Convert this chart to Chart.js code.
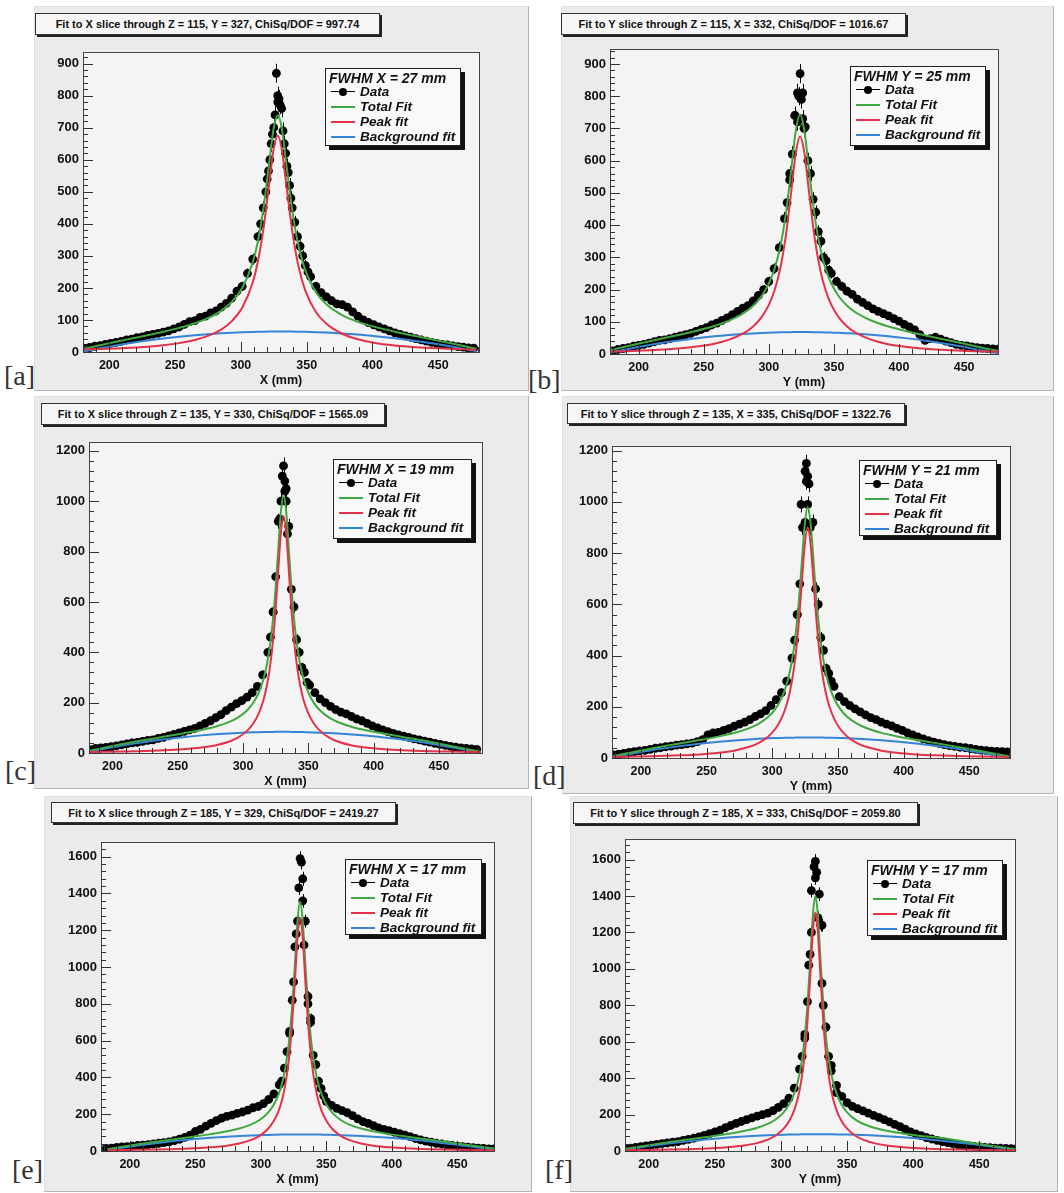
<!DOCTYPE html>
<html>
<head>
<meta charset="utf-8">
<script src="https://cdn.jsdelivr.net/npm/chart.js@4.4.1/dist/chart.umd.min.js"></script>
<style>
  body { margin: 0; width: 1064px; height: 1193px; position: relative; overflow: hidden; background: #fff; font-family: "Liberation Sans", Arial, sans-serif; }
  .pad { position: absolute; background: #ebebeb; border-left: 1px solid #e0e0e0; border-top: 1px solid #e0e0e0; border-right: 1px solid #b4b4b4; border-bottom: 1px solid #b4b4b4; }
  .ttl { position: absolute; box-sizing: border-box; background: #f6f6f6; border: 1px solid #333; box-shadow: 2px 2px 0 #222; font: bold 11px "Liberation Sans", Arial, sans-serif; color: #111; display: flex; align-items: center; justify-content: center; white-space: nowrap; }
  .leg { position: absolute; box-sizing: border-box; background: #f9f9f9; border: 1px solid #222; box-shadow: 4px 4px 0 #111; color: #111; font: italic bold 13.5px "Liberation Sans", Arial, sans-serif; }
  .leg div { position: absolute; white-space: nowrap; }
  .tag { position: absolute; font: 28px "Liberation Serif", "DejaVu Serif", serif; color: #333; line-height: 1; }
  canvas { position: absolute; }
</style>
</head>
<body>
<script>
// ---- data ----
const BIN = 4; // data points every 4 mm

const titles = [
  'Fit to X slice through Z = 115, Y = 327, ChiSq/DOF = 997.74',
  'Fit to Y slice through Z = 115, X = 332, ChiSq/DOF = 1016.67',
  'Fit to X slice through Z = 135, Y = 330, ChiSq/DOF = 1565.09',
  'Fit to Y slice through Z = 135, X = 335, ChiSq/DOF = 1322.76',
  'Fit to X slice through Z = 185, Y = 329, ChiSq/DOF = 2419.27',
  'Fit to Y slice through Z = 185, X = 333, ChiSq/DOF = 2059.80'
];
const fwhmLabels = ['FWHM X = 27 mm', 'FWHM Y = 25 mm', 'FWHM X = 19 mm', 'FWHM Y = 21 mm', 'FWHM X = 17 mm', 'FWHM Y = 17 mm'];
const legendLabels = ['Data', 'Total Fit', 'Peak fit', 'Background fit'];

const xTickValues = [200, 250, 300, 350, 400, 450];
const yTicks900 = [0, 100, 200, 300, 400, 500, 600, 700, 800, 900];
const yTicks1200 = [0, 200, 400, 600, 800, 1000, 1200];
const yTicks1600 = [0, 200, 400, 600, 800, 1000, 1200, 1400, 1600];

// panel a
const dataA = [12,14,18,20,24,27,30,33,38,40,45,47,52,55,58,62,66,72,78,86,95,98,108,112,122,128,140,152,168,190,205,245,290,360,450,565,700,790,650,520,405,330,270,235,205,185,172,160,150,148,140,125,112,100,92,85,78,72,66,60,55,50,46,42,38,34,30,27,24,22,19,17,15,13,12];
const clusterXA = [326,327,328,328,330,331,324,334,315,319,320,322,323,332,335,336,338,339,343,347,351];
const clusterYA = [740,870,800,780,770,760,680,620,400,500,540,600,650,690,580,560,480,450,360,300,250];
const fitXA = [179,193,205,217,229,241,253,265,277,285,293,301,309,313,317,321,325,328,331,335,339,343,349,357,365,377,389,401,417,433,449,465,479];
const totalA = [8.6,21.3,31.8,42.1,52.4,63.3,75.3,89.8,109.6,128.4,155.9,199.7,279.7,346.6,443,572.2,699.9,739,700,571.9,443.3,346.5,254.8,187.1,148.8,114.9,94.1,79.1,63.4,49.6,36.3,22.6,10.1];
const peakA = [7.8,9.3,11.1,13.5,16.7,21.2,27.7,37.5,53.4,70,95.7,138,216.9,283.4,379.5,508.4,635.9,675,636,508,379.5,283,191.8,125.1,88.2,57,39.7,29.1,20.4,15,11.5,9.1,7.6];
const bkgA = [0.8,12,20.7,28.6,35.7,42.1,47.6,52.3,56.2,58.4,60.2,61.7,62.8,63.2,63.5,63.8,64,64,64,63.9,63.8,63.5,63,62,60.6,57.9,54.4,50,43,34.6,24.8,13.5,2.5];

// panel b
const dataB = [10,14,17,20,24,27,30,34,38,42,44,48,52,56,60,64,70,76,82,90,96,104,112,122,132,142,150,165,182,200,225,265,330,420,540,740,870,705,560,440,350,290,250,225,210,195,185,170,160,150,140,132,125,118,110,102,92,84,75,60,42,48,52,46,40,35,30,27,25,22,20,18,17,16,15];
const clusterXB = [322,323,325,326,320,327,314,316,318,322,326,330,334,338,342,346];
const clusterYB = [810,800,790,810,740,700,470,560,620,720,730,600,480,380,300,260];
const fitXB = [178,181,203,225,241.5,258,269,280,287.7,294.3,299.8,304.2,308.6,313,316.85,320.7,324,327.3,331.15,335,339.4,343.8,348.2,353.7,360.3,368,379,390,406.5,423,445,467,478];
const totalB = [11.8,14.7,34.8,54.1,69,86.9,102.6,125,148.7,178.9,216.8,262,329.6,433.2,559.9,692.3,743,692.3,560.1,433.3,329.8,262.3,217.1,179.3,149.1,125.6,103.2,87.7,70,55.2,36.2,16.4,8.6];
const peakB = [7.4,7.7,10.6,15.5,21.5,32.1,43.8,63,84.8,113.7,150.7,195.3,262.4,365.6,492.1,624.3,675,624.3,492.1,365.6,262.4,195.3,150.7,113.7,84.8,63,43.8,32.1,21.5,15.5,10.6,7.7,6.6];
const bkgB = [4.4,7,24.2,38.6,47.5,54.8,58.8,62,63.9,65.2,66.1,66.7,67.2,67.6,67.8,68,68,68,68,67.7,67.4,67,66.4,65.6,64.3,62.6,59.4,55.6,48.5,39.7,25.6,8.7,2];

// panel c
const dataC = [12,18,20,22,25,28,32,36,40,42,46,50,52,58,62,68,74,80,86,92,98,108,118,128,140,152,168,182,196,208,222,240,265,310,400,560,920,1140,900,580,400,320,270,240,215,200,185,172,162,155,145,135,128,118,108,100,92,85,78,72,67,62,56,52,47,43,38,34,30,26,23,20,18,16,14];
const clusterXC = [330,332,333,332,329,333,321,323,325,328,334,337,341,345,349];
const clusterYC = [1100,1080,1050,1040,1000,1000,460,560,700,930,870,650,450,340,280];
const fitXC = [182,191,219,240,254,268,278.5,289,296,303,307.9,312.1,315.6,318.4,321.2,324,326.45,328.9,331,333.1,335.55,338,340.8,343.6,346.4,349.9,354.1,359,366,373,383.5,394,408,422,443,471,482];
const totalC = [8.4,18.4,46.3,65.2,77.8,91.5,104.4,122.6,140.8,169.1,200.4,241.2,293.1,355.5,449.1,593,769.3,953.4,1024,953.4,769.3,592.9,449,355.3,292.9,241,200.1,168.7,140.3,122,103.6,90.6,76.7,63.9,44.7,16.3,5.5];
const peakC = [4,4.6,7.1,10.7,14.8,21.5,30,44.7,61,87.8,118.2,158.4,209.9,272,365.4,509.1,685.3,869.4,940,869.4,685.3,509.1,365.4,272,209.9,158.4,118.2,87.8,61,44.7,30,21.5,14.8,10.7,7.1,4.6,4];
const bkgC = [4.4,13.8,39.2,54.5,63,70,74.4,77.9,79.8,81.3,82.2,82.8,83.2,83.5,83.7,83.9,84,84,84,84,84,83.8,83.6,83.3,83,82.6,81.9,80.9,79.3,77.3,73.6,69.1,61.9,53.2,37.6,11.7,1.5];

// panel d
const dataD = [12,15,18,22,25,28,30,34,38,40,44,46,50,52,55,58,64,72,90,98,100,108,115,124,132,140,150,162,172,185,205,228,255,300,390,560,900,990,920,600,420,330,280,240,220,205,192,180,168,158,150,140,132,125,116,108,98,90,82,75,68,62,57,52,48,45,42,40,37,34,31,29,27,26,25,24];
const clusterXD = [326,325,327,326,328,322,317,319,321,325,329,333,337,341,345];
const clusterYD = [1150,1120,1100,1080,1070,990,460,560,680,920,900,660,470,350,300];
const fitXD = [178,207,229.5,244.5,259.5,270.75,282,289.5,297,302.25,306.75,310.5,313.5,316.5,319.5,322.1,324.75,327,329.25,331.9,334.5,337.5,340.5,343.5,347.25,351.75,357,364.5,372,383.25,394.5,409.5,424.5,447,481];
const totalD = [6.6,36.1,56.7,70,84.4,97.3,115.5,133.3,160.8,190.8,230.1,279.9,339.8,429.3,567.2,736,912.4,980,912.4,736.1,567.3,429.5,340,280.2,230.4,191.1,161.2,133.8,116.1,98.1,85.3,71.1,58.1,37.8,5.7];
const peakD = [4.5,6.8,10.3,14.1,20.6,28.7,42.8,58.4,84.1,113.1,151.7,201,260.5,349.8,487.4,656.1,832.4,900,832.4,656.1,487.4,349.8,260.5,201,151.7,113.1,84.1,58.4,42.8,28.7,20.6,14.1,10.3,6.8,4.2];
const bkgD = [2.1,29.3,46.4,55.9,63.8,68.6,72.7,74.9,76.7,77.7,78.4,78.9,79.3,79.5,79.75,79.9,80,80,80,80,79.9,79.7,79.5,79.2,78.7,78,77.1,75.4,73.3,69.4,64.7,57,47.8,31,1.5];

// panel e
const dataE = [14,16,20,22,24,27,30,32,35,38,42,46,50,56,64,74,86,106,118,135,150,165,178,188,195,205,212,222,235,242,258,280,310,360,450,640,1110,1590,1250,720,470,340,270,248,232,220,208,192,175,160,150,138,125,118,110,102,94,86,78,68,60,54,48,42,38,33,30,27,24,21,18,16,14,12,11,10,9];
const clusterXE = [331,332,329,332,328,333,325,336,316,320,322,324,327,336,338,340,344,348];
const clusterYE = [1570,1480,1430,1360,1250,1120,920,840,380,540,650,820,1180,800,700,520,380,300];
const fitXE = [183,206,230.8,249.4,261.8,274.2,283.5,292.8,299,305.2,309.5,313.3,316.4,318.8,321.3,323.8,326,328.1,330,331.9,334,336.2,338.7,341.2,343.6,346.7,350.5,354.8,361,367.2,376.5,385.8,398.2,410.6,429.2,454,486];
const totalE = [10.2,36.3,61.3,79.1,91.8,106.9,122,144.7,168.4,205.8,247.4,302.1,371.8,455.6,581.4,775,1012.1,1260,1355,1260,1012.1,775,581.4,455.6,371.8,302.1,247.4,205.8,168.4,144.7,122,106.9,91.8,79.1,61.3,36.3,5.4];
const peakE = [4.4,6.2,9.6,14.4,19.9,29,40.4,60.1,82.1,118.2,159,213.2,282.5,366.1,491.7,685.1,922.2,1170,1265,1170,922.2,685.1,491.7,366.1,282.5,213.2,159,118.2,82.1,60.1,40.4,29,19.9,14.4,9.6,6.2,3.9];
const bkgE = [5.8,30.1,51.7,64.7,71.9,77.9,81.6,84.6,86.3,87.6,88.4,88.9,89.3,89.5,89.7,89.85,89.9,90,90,90,89.9,89.85,89.7,89.5,89.3,88.9,88.4,87.6,86.3,84.6,81.6,77.9,71.9,64.7,51.7,30.1,1.5];

// panel f
const dataF = [12,16,20,24,28,32,36,40,44,48,52,58,64,70,78,86,95,105,115,128,140,152,162,172,182,192,200,208,222,240,260,290,345,450,640,1080,1590,1240,680,470,360,300,265,245,232,220,208,196,184,172,160,146,134,120,105,94,84,74,66,58,52,46,40,35,31,28,25,22,20,18,16,15,14,13,13,12];
const clusterXF = [325,327,326,323,329,331,321,316,318,320,323,328,331,332,336,338,342];
const clusterYF = [1560,1530,1500,1430,1410,1240,1020,520,620,820,1200,1280,920,800,520,440,320];
const fitXF = [180,206,230,248,260,272,281,290,296,302,306.2,309.8,312.8,315.2,317.6,320,322.1,324.2,326,327.8,329.9,332,334.4,336.8,339.2,342.2,345.8,350,356,362,371,380,392,404,422,446,482];
const totalF = [9.1,39.1,63.8,81.4,94.2,109.5,125,148.5,172.9,211.7,254.8,311.4,383.6,470.4,600.8,801.2,1046.9,1303.5,1402,1303.6,1047,801.4,601,470.8,384,311.9,255.4,212.5,173.9,149.6,126.4,111.2,96.3,83.9,71.7,43,5.3];
const peakF = [4.3,6.4,10,14.9,20.6,30,41.8,62.2,85,122.4,164.7,220.7,292.5,379.1,509.2,709.5,955,1211.6,1310,1211.6,955,709.5,509.2,379.1,292.5,220.7,164.7,122.4,85,62.2,41.8,30,20.6,14.9,10,6.4,3.8];
const bkgF = [4.8,32.7,53.8,66.5,73.6,79.5,83.2,86.3,87.9,89.3,90.1,90.7,91.1,91.3,91.6,91.7,91.9,91.9,92,92,92,91.9,91.8,91.7,91.5,91.2,90.7,90.1,88.9,87.4,84.6,81.2,75.7,69,56.8,36.6,1.5];

// ---- layout ----
const GREEN = '#40a840', RED = '#e3324a', BLUE = '#3484d8';

const PANELS = [
  { axis: 'X', frame: [83, 50, 479, 352], xr: [180, 481], ymax: 937, yTicks: yTicks900, yStep: 100, yMinor: 20,
    pad: [34, 6, 527, 389], tbox: [35, 13, 345, 22], lbox: [325, 68, 136, 78], tag: ['[a]', 4, 362],
    start: 181, data: dataA, clX: clusterXA, clY: clusterYA, fitX: fitXA, total: totalA, peak: peakA, bkg: bkgA },
  { axis: 'Y', frame: [610, 47, 998, 354], xr: [178, 476], ymax: 947, yTicks: yTicks900, yStep: 100, yMinor: 20,
    pad: [561, 6, 1052, 389], tbox: [561, 13, 345, 22], lbox: [850, 66, 136, 80], tag: ['[b]', 528, 366],
    start: 180, data: dataB, clX: clusterXB, clY: clusterYB, fitX: fitXB, total: totalB, peak: peakB, bkg: bkgB },
  { axis: 'X', frame: [89, 440, 482, 753], xr: [182, 483], ymax: 1236, yTicks: yTicks1200, yStep: 200, yMinor: 40,
    pad: [34, 396, 527, 787], tbox: [41, 403, 344, 22], lbox: [333, 459, 139, 80], tag: ['[c]', 5, 757],
    start: 183, data: dataC, clX: clusterXC, clY: clusterYC, fitX: fitXC, total: totalC, peak: peakC, bkg: bkgC },
  { axis: 'Y', frame: [612, 444, 1010, 758], xr: [178, 481], ymax: 1219, yTicks: yTicks1200, yStep: 200, yMinor: 40,
    pad: [562, 396, 1052, 792], tbox: [567, 403, 338, 21], lbox: [859, 460, 138, 76], tag: ['[d]', 533, 762],
    start: 179, data: dataD, clX: clusterXD, clY: clusterYD, fitX: fitXD, total: totalD, peak: peakD, bkg: bkgD },
  { axis: 'X', frame: [101, 840, 494, 1151], xr: [178, 478], ymax: 1681, yTicks: yTicks1600, yStep: 200, yMinor: 40,
    pad: [44, 796, 530, 1190], tbox: [51, 802, 345, 21], lbox: [345, 859, 137, 76], tag: ['[e]', 12, 1156],
    start: 182, data: dataE, clX: clusterXE, clY: clusterYE, fitX: fitXE, total: totalE, peak: peakE, bkg: bkgE },
  { axis: 'Y', frame: [625, 837, 1015, 1151], xr: [182, 477], ymax: 1714, yTicks: yTicks1600, yStep: 200, yMinor: 40,
    pad: [570, 796, 1056, 1190], tbox: [573, 802, 345, 22], lbox: [867, 860, 136, 76], tag: ['[f]', 545, 1156],
    start: 182, data: dataF, clX: clusterXF, clY: clusterYF, fitX: fitXF, total: totalF, peak: peakF, bkg: bkgF }
];

Chart.defaults.font.family = '"Liberation Sans", Arial, sans-serif';

// ROOT-like frame, inward ticks and error bars
const rootFrame = {
  id: 'rootFrame',
  beforeDraw(chart) {
    const { ctx, chartArea: a } = chart;
    ctx.save();
    ctx.fillStyle = '#f4f4f4';
    ctx.fillRect(a.left, a.top, a.right - a.left, a.bottom - a.top);
    ctx.restore();
  },
  beforeDatasetsDraw(chart) {
    const { ctx, chartArea: a, scales: { x, y } } = chart;
    ctx.save();
    ctx.beginPath();
    ctx.rect(a.left, a.top, a.right - a.left, a.bottom - a.top);
    ctx.clip();
    ctx.strokeStyle = '#000';
    ctx.lineWidth = 1;
    ctx.beginPath();
    chart.data.datasets[3].data.forEach(p => {
      const err = Math.sqrt(p.y);
      const px = Math.round(x.getPixelForValue(p.x)) + 0.5;
      ctx.moveTo(px, y.getPixelForValue(p.y - err));
      ctx.lineTo(px, y.getPixelForValue(p.y + err));
    });
    ctx.stroke();
    ctx.restore();
  },
  afterDraw(chart, args, o) {
    const { ctx, chartArea: a, scales: { x, y } } = chart;
    ctx.save();
    ctx.strokeStyle = '#444';
    ctx.lineWidth = 1;
    ctx.strokeRect(Math.round(a.left) + 0.5, Math.round(a.top) + 0.5, Math.round(a.right - a.left), Math.round(a.bottom - a.top));
    ctx.strokeStyle = '#333';
    ctx.beginPath();
    for (let v = Math.ceil(x.min / 10) * 10; v <= x.max; v += 10) {
      const px = Math.round(x.getPixelForValue(v)) + 0.5;
      const len = v % 50 === 0 ? 10 : 5;
      ctx.moveTo(px, a.bottom);
      ctx.lineTo(px, a.bottom - len);
    }
    for (let v = 0; v <= y.max; v += o.yMinor) {
      const py = Math.round(y.getPixelForValue(v)) + 0.5;
      const len = v % o.yStep === 0 ? 10 : 5;
      ctx.moveTo(a.left, py);
      ctx.lineTo(a.left + len, py);
    }
    ctx.stroke();
    ctx.restore();
  }
};

function box(cls, l, t, w, h) {
  const d = document.createElement('div');
  d.className = cls;
  d.style.left = l + 'px';
  d.style.top = t + 'px';
  if (w != null) d.style.width = w + 'px';
  if (h != null) d.style.height = h + 'px';
  document.body.appendChild(d);
  return d;
}

function makeLegend(p, i) {
  const [l, t, w, h] = p.lbox;
  const lg = box('leg', l, t, w, h);
  const head = document.createElement('div');
  head.textContent = fwhmLabels[i];
  head.style.cssText = 'left:3px;top:1px;font-size:14px;';
  lg.appendChild(head);
  const colors = ['#000', GREEN, RED, BLUE];
  legendLabels.forEach((lab, k) => {
    const cy = 23 + k * 15;
    const line = document.createElement('div');
    line.style.cssText = `left:5px;top:${cy - 1}px;width:24px;height:${k === 0 ? 1 : 2}px;background:${colors[k]};`;
    lg.appendChild(line);
    if (k === 0) {
      const dot = document.createElement('div');
      dot.style.cssText = `left:13px;top:${cy - 4}px;width:8px;height:8px;border-radius:50%;background:#000;`;
      lg.appendChild(dot);
    }
    const txt = document.createElement('div');
    txt.textContent = lab;
    txt.style.cssText = `left:34px;top:${cy - 8}px;line-height:15px;`;
    lg.appendChild(txt);
  });
}

PANELS.forEach((p, i) => {
  box('pad', p.pad[0], p.pad[1], p.pad[2] - p.pad[0], p.pad[3] - p.pad[1]);
  const tg = box('tag', p.tag[1], p.tag[2]);
  tg.textContent = p.tag[0];

  const [L, T, R, B] = p.frame;
  const cv = document.createElement('canvas');
  cv.width = R - L + 60;
  cv.height = B - T + 48;
  cv.style.left = (L - 50) + 'px';
  cv.style.top = (T - 10) + 'px';
  document.body.appendChild(cv);

  const tt = box('ttl', p.tbox[0], p.tbox[1], p.tbox[2], p.tbox[3]);
  tt.textContent = titles[i];
  makeLegend(p, i);

  const pts = p.data.map((v, k) => ({ x: p.start + BIN * k, y: v }))
    .concat(p.clX.map((x, k) => ({ x: x, y: p.clY[k] })));
  const curve = (ys) => p.fitX.map((x, k) => ({ x: x, y: ys[k] }));
  const fitStyle = (c) => ({ showLine: true, borderColor: c, borderWidth: 2, pointRadius: 0, cubicInterpolationMode: 'monotone', fill: false });

  new Chart(cv, {
    type: 'scatter',
    data: {
      datasets: [
        Object.assign({ label: 'Peak fit', data: curve(p.peak) }, fitStyle(RED)),
        Object.assign({ label: 'Total Fit', data: curve(p.total) }, fitStyle(GREEN)),
        Object.assign({ label: 'Background fit', data: curve(p.bkg) }, fitStyle(BLUE)),
        { label: 'Data', data: pts, showLine: false, pointRadius: 4.4, pointBackgroundColor: '#000', pointBorderWidth: 0, pointBorderColor: '#000' }
      ]
    },
    options: {
      responsive: false,
      animation: false,
      devicePixelRatio: 1,
      layout: { padding: { top: 10, right: 10, left: 0, bottom: 0 } },
      plugins: { legend: { display: false }, tooltip: { enabled: false }, rootFrame: { yStep: p.yStep, yMinor: p.yMinor } },
      scales: {
        x: {
          type: 'linear', min: p.xr[0], max: p.xr[1],
          afterFit: s => { s.height = 38; },
          afterBuildTicks: s => { s.ticks = xTickValues.map(v => ({ value: v })); },
          grid: { display: false, drawTicks: false }, border: { display: false },
          ticks: { autoSkip: false, maxRotation: 0, padding: 6, color: '#111',
                   font: { size: 12.5, weight: 'bold' }, callback: v => String(v) },
          title: { display: true, text: p.axis + ' (mm)', color: '#111', font: { size: 12.5, weight: 'bold' }, padding: { top: 0, bottom: 2 } }
        },
        y: {
          type: 'linear', min: 0, max: p.ymax,
          afterFit: s => { s.width = 50; },
          afterBuildTicks: s => { s.ticks = p.yTicks.map(v => ({ value: v })); },
          grid: { display: false, drawTicks: false }, border: { display: false },
          ticks: { autoSkip: false, padding: 4, color: '#111',
                   font: { size: 13, weight: 'bold' }, callback: v => String(v) }
        }
      }
    },
    plugins: [rootFrame]
  });
});
</script>
</body>
</html>
